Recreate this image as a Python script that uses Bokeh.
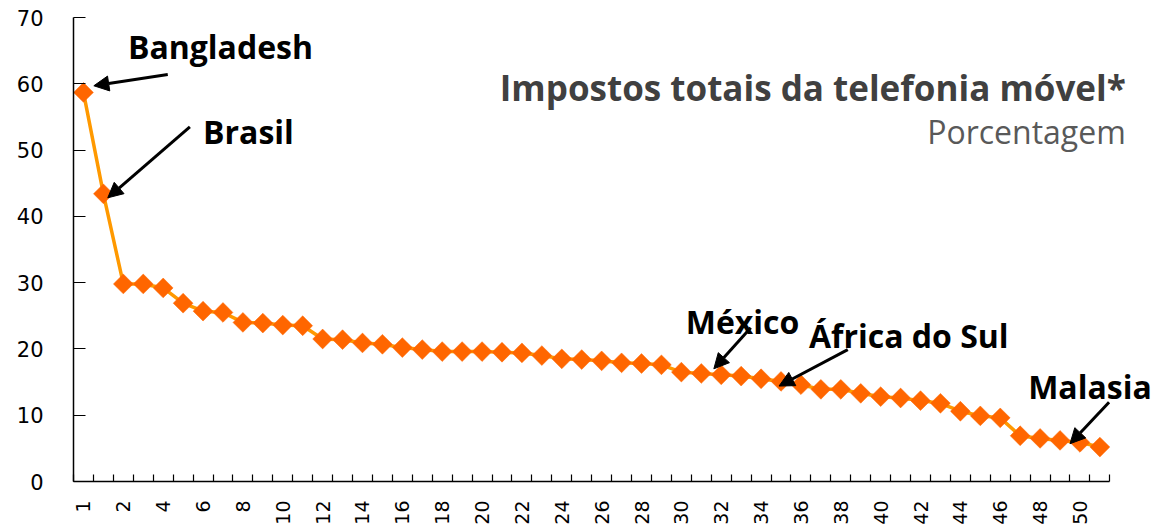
import math
from bokeh.plotting import figure
from bokeh.models import Range1d, FixedTicker, Label, Arrow, NormalHead, ColumnDataSource
from bokeh.embed import file_html
from bokeh.resources import INLINE

# ---- data ----
ranks = list(range(1, 53))
taxes = [58.7, 43.4, 29.8, 29.8, 29.2, 26.9, 25.7, 25.5, 24.0, 23.9,
         23.6, 23.5, 21.5, 21.4, 20.9, 20.7, 20.2, 19.9, 19.6, 19.6,
         19.6, 19.5, 19.4, 19.0, 18.5, 18.4, 18.2, 17.9, 17.8, 17.6,
         16.5, 16.3, 16.1, 15.9, 15.5, 15.1, 14.6, 13.9, 13.9, 13.3,
         12.8, 12.6, 12.2, 11.8, 10.6, 9.9, 9.6, 6.9, 6.5, 6.2,
         5.9, 5.2]
label_positions = [1, 3, 5, 7, 9, 11, 13, 15, 17, 19, 21, 23, 25, 27, 29,
                   31, 33, 35, 37, 39, 41, 43, 45, 47, 49, 51]
x_tick_labels = ["1", "2", "4", "6", "8", "10", "12", "14", "16", "18", "20",
                 "22", "24", "26", "28", "30", "32", "34", "36", "38", "40",
                 "42", "44", "46", "48", "50"]
y_ticks = [0, 10, 20, 30, 40, 50, 60, 70]

title_text = "Impostos totais da telefonia móvel*"
subtitle_text = "Porcentagem"

src = ColumnDataSource(data=dict(rank=ranks, tax=taxes))

n = len(ranks)
p = figure(width=1153, height=528, output_backend="svg", toolbar_location=None,
           x_range=Range1d(0.5, 54.69), y_range=Range1d(0, 70),
           min_border_left=73, min_border_right=0, min_border_top=17,
           min_border_bottom=47)
p.outline_line_color = None
p.xgrid.visible = False
p.ygrid.visible = False
p.background_fill_color = "white"

# x axis: tick marks between categories (minor), labels at categories
boundaries = [i + 0.5 for i in range(0, n + 1)]
p.xaxis.bounds = (0.5, n + 0.5)
p.xaxis.ticker = FixedTicker(ticks=label_positions, minor_ticks=boundaries)
p.xaxis.major_label_overrides = {pos: lab for pos, lab in zip(label_positions, x_tick_labels)}
p.xaxis.major_tick_line_color = None
p.xaxis.major_tick_in = 0
p.xaxis.major_tick_out = 0
p.xaxis.minor_tick_line_color = "black"
p.xaxis.minor_tick_line_width = 1.2
p.xaxis.minor_tick_in = 7
p.xaxis.minor_tick_out = 0
p.xaxis.major_label_orientation = math.pi / 2
p.xaxis.major_label_standoff = 19
p.xaxis.major_label_text_font = "DejaVu Sans"
p.xaxis.major_label_text_font_size = "19px"
p.xaxis.major_label_text_color = "black"
p.xaxis.axis_line_color = "black"
p.xaxis.axis_line_width = 1.5

# y axis
p.yaxis.ticker = FixedTicker(ticks=y_ticks)
p.yaxis.major_tick_in = 12
p.yaxis.major_tick_out = 0
p.yaxis.major_tick_line_color = "black"
p.yaxis.major_tick_line_width = 1.2
p.yaxis.minor_tick_line_color = None
p.yaxis.major_label_standoff = 30
p.yaxis.major_label_text_font = "DejaVu Sans"
p.yaxis.major_label_text_font_size = "21px"
p.yaxis.major_label_text_color = "black"
p.yaxis.axis_line_color = "black"
p.yaxis.axis_line_width = 1.5

# series
p.line(x="rank", y="tax", source=src, line_color="#FF9900", line_width=3.5)
p.scatter(x="rank", y="tax", source=src, marker="square", size=14,
          angle=math.pi / 4, fill_color="#FF6600", line_color="#FF6600",
          line_width=0.5)

# title
p.add_layout(Label(x=53.3, y=59.4, text=title_text, text_align="right",
                   text_baseline="alphabetic", text_font="Open Sans",
                   text_font_style="bold", text_font_size="35px",
                   text_color="#404040"))
p.add_layout(Label(x=53.3, y=52.8, text=subtitle_text, text_align="right",
                   text_baseline="alphabetic", text_font="Open Sans",
                   text_font_size="32px", text_color="#595959"))

# annotations
notes = [
    ("Bangladesh", 3.23, 65.7, (5.23, 61.4, 1.52, 59.7)),
    ("Brasil", 7.0, 52.8, (6.34, 53.5, 2.22, 42.8)),
    ("México", 31.22, 24.2, (34.48, 23.2, 32.63, 17.0)),
    ("África do Sul", 37.4, 22.1, (39.35, 19.9, 35.9, 14.4)),
    ("Malasia", 48.4, 14.4, (52.46, 11.96, 50.5, 5.7)),
]
for text, tx, ty, (xs, ys, xe, ye) in notes:
    p.add_layout(Label(x=tx, y=ty, text=text, text_align="left",
                       text_baseline="alphabetic", text_font="Open Sans",
                       text_font_style="bold", text_font_size="32px",
                       text_color="black"))
    p.add_layout(Arrow(end=NormalHead(size=15, fill_color="black",
                                      line_color="black", line_width=1),
                       x_start=xs, y_start=ys, x_end=xe, y_end=ye,
                       line_color="black", line_width=3))

open("out.html", "w").write(file_html(p, INLINE))
